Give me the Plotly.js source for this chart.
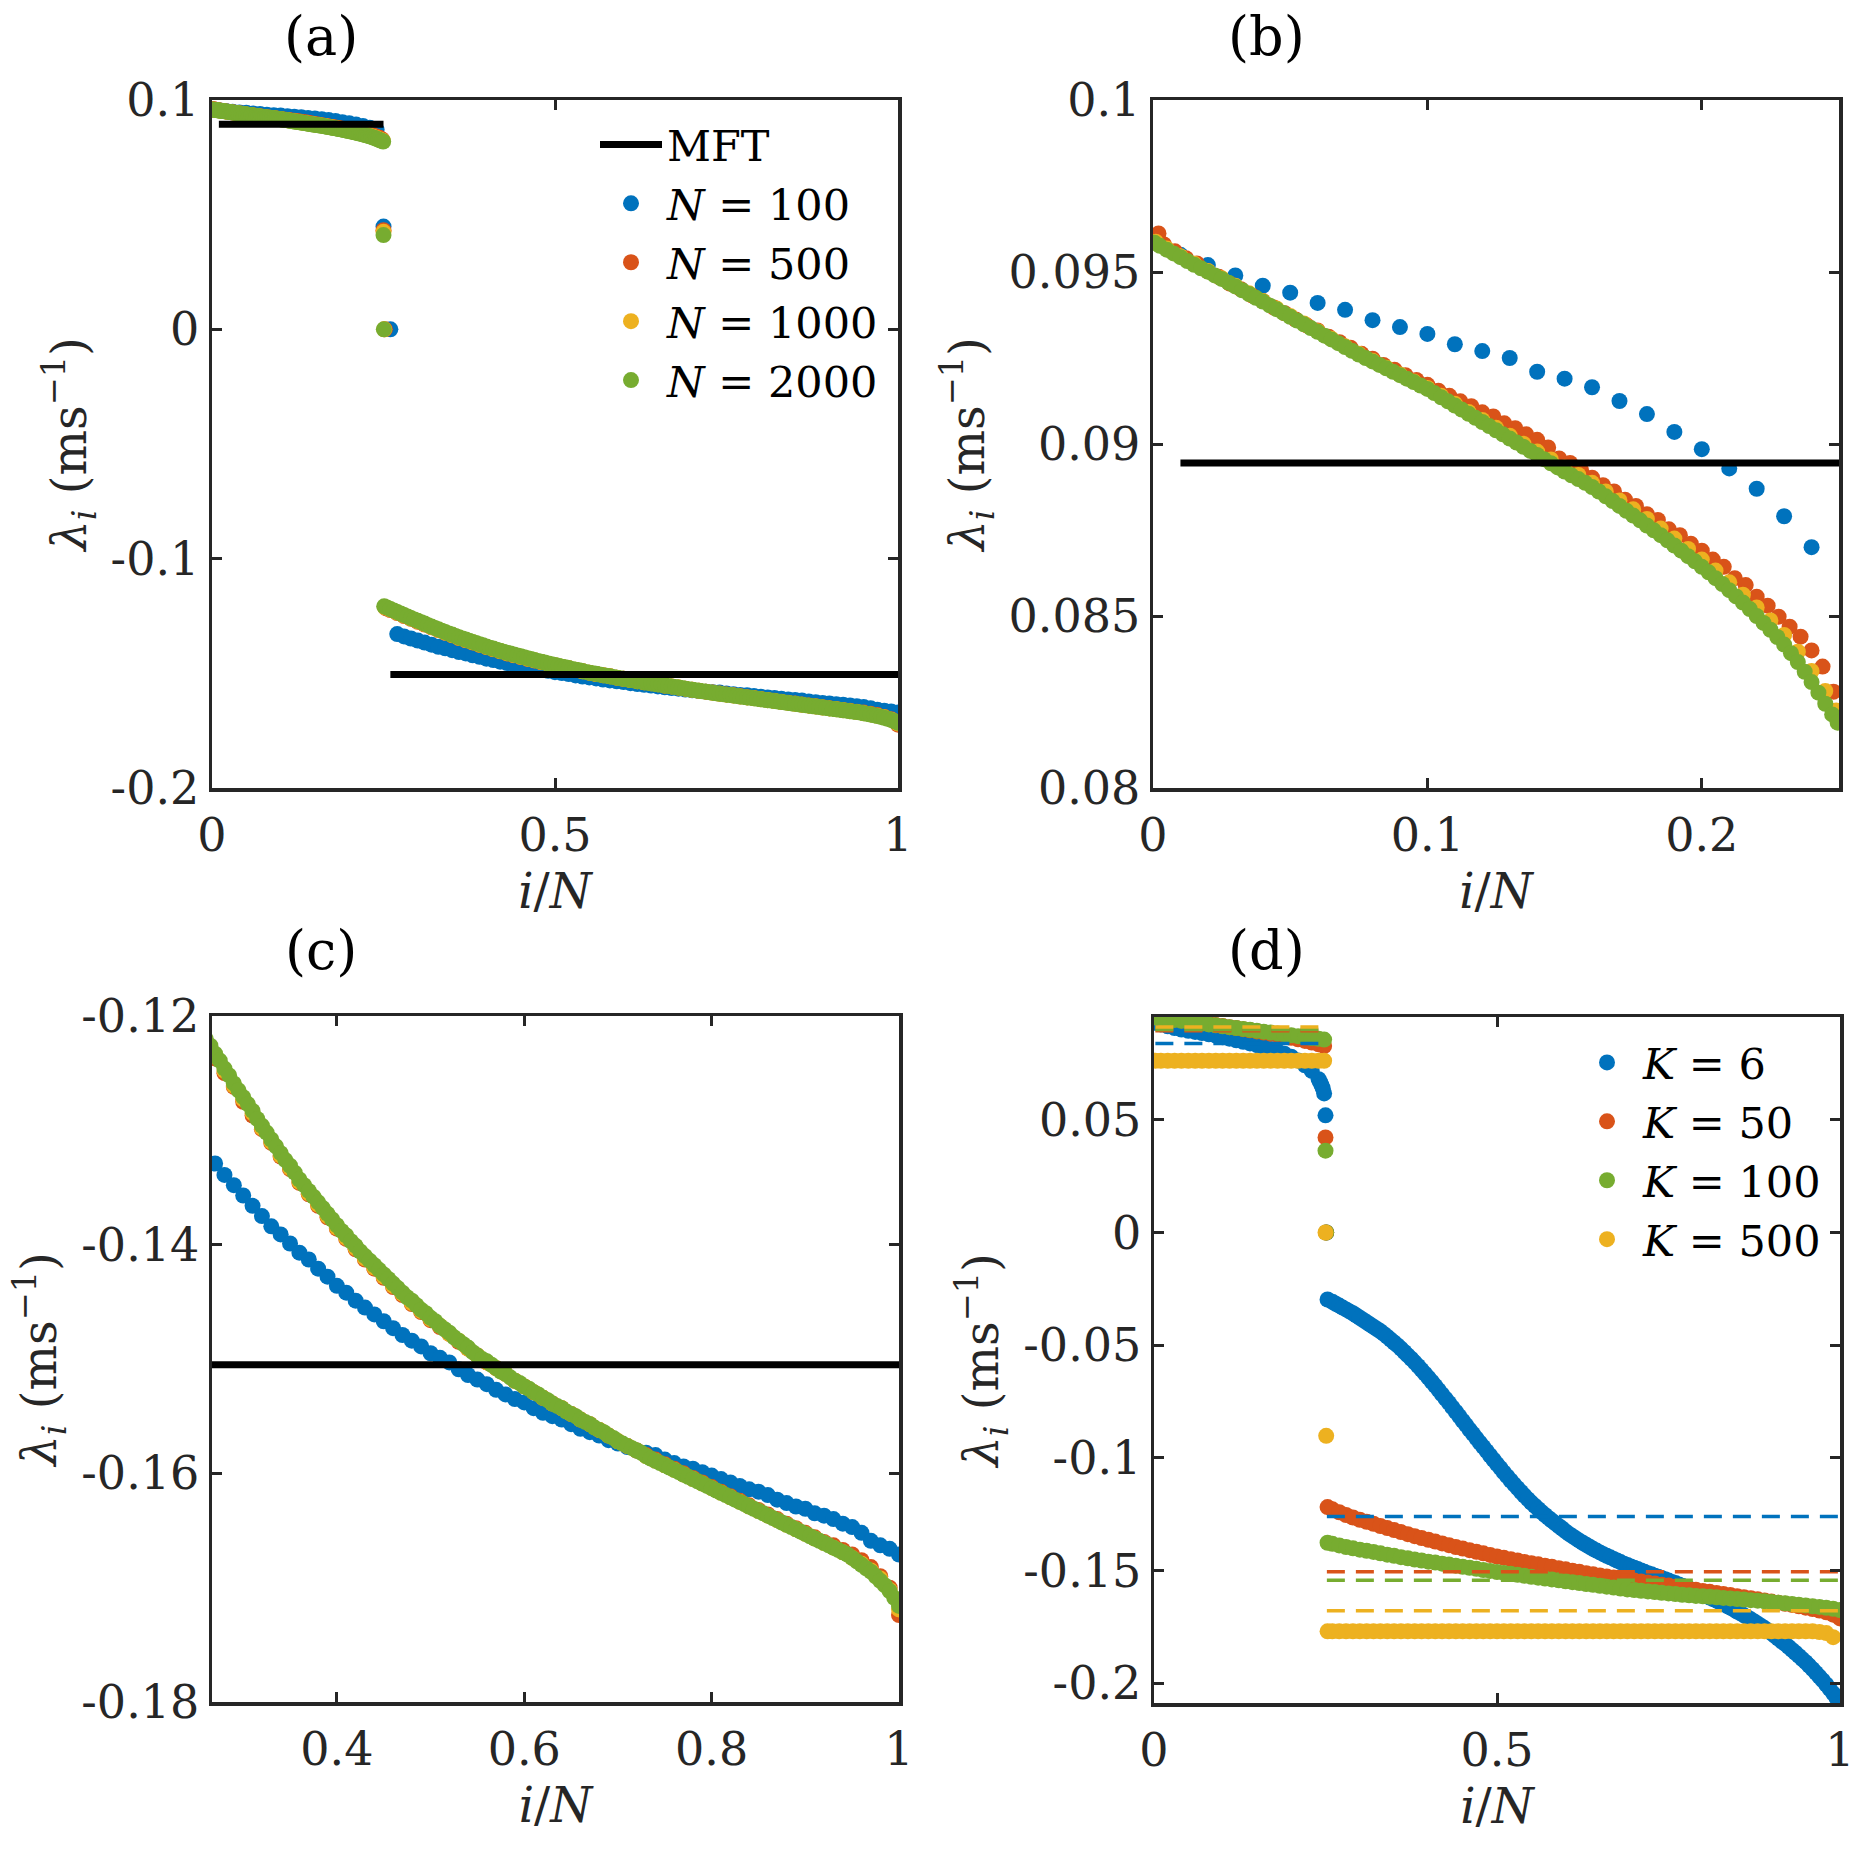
<!DOCTYPE html>
<html>
<head>
<meta charset="utf-8">
<script src="https://cdn.plot.ly/plotly-3.0.1.min.js"></script>
<style>html,body{margin:0;padding:0;background:#fff;}#chart{width:1857px;height:1857px;}</style>
</head>
<body>
<div id="chart"></div>
<script>
// ---------------- DATA ----------------
// Panels (a)-(c): eigenvalues lambda_i vs i/N for several N
const N_values = [100, 500, 1000, 2000];
const seriesNames = ['<i>N</i> = 100', '<i>N</i> = 500', '<i>N</i> = 1000', '<i>N</i> = 2000'];

// N = 100 : every eigenvalue, i = 1..100
const y_N100 = [
  0.0955, 0.0952, 0.0949, 0.0946, 0.0944, 0.0941, 0.0939, 0.0936, 0.0934, 0.0932,
  0.0929, 0.0927, 0.0925, 0.0921, 0.0919, 0.09165, 0.09125, 0.09087, 0.09035, 0.08985,
  0.08929, 0.0887, 0.0879, 0.0870,
  0.0448, 0.0,
  -0.1329, -0.1339, -0.1348, -0.1357, -0.1366, -0.1375, -0.1384, -0.1391, -0.1399, -0.1407,
  -0.1413, -0.1421, -0.1428, -0.1436, -0.1442, -0.1449, -0.1455, -0.1461, -0.1467, -0.1473,
  -0.1479, -0.1484, -0.1489, -0.1495, -0.1499, -0.1503, -0.1509, -0.1514, -0.1518, -0.1522,
  -0.1527, -0.1531, -0.1535, -0.1538, -0.1543, -0.1547, -0.1550, -0.1553, -0.1557, -0.1561,
  -0.1564, -0.1567, -0.1571, -0.1574, -0.1577, -0.1580, -0.1582, -0.1584, -0.1588, -0.1591,
  -0.1594, -0.1596, -0.1599, -0.1602, -0.1605, -0.1608, -0.1611, -0.1614, -0.1616, -0.1619,
  -0.1623, -0.1626, -0.1629, -0.1631, -0.1635, -0.1637, -0.1640, -0.1644, -0.1647, -0.1652,
  -0.1659, -0.1663, -0.1666, -0.1671
];

// N = 500 (sampled indices)
const y_N500_pos = [
  0.09612, 0.09580, 0.09560, 0.09540, 0.09525, 0.09502, 0.09486, 0.09466, 0.09450, 0.09432,
  0.09416, 0.09397, 0.09380, 0.09362, 0.09345, 0.09330, 0.09312, 0.09296, 0.09280, 0.09262,
  0.09248, 0.09230, 0.09216, 0.09200, 0.09186, 0.09172, 0.09155, 0.09140, 0.09124, 0.09110,
  0.09092, 0.09080, 0.09060, 0.09046, 0.09028, 0.09012, 0.08990, 0.08958, 0.08945, 0.08924,
  0.08902, 0.08880, 0.08862, 0.08838, 0.08820, 0.08796, 0.08779, 0.08752, 0.08735, 0.08710,
  0.08690, 0.08664, 0.08643, 0.08610, 0.08590, 0.08556, 0.08530, 0.08498, 0.08469, 0.08440,
  0.08400, 0.08353, 0.08280
];
const y_N500_mid = [0.0432, 0.0];
const y_N500_neg = [
  -0.1217,
  -0.1224, -0.1237, -0.1250, -0.1262, -0.1275, -0.1287, -0.1299, -0.1311, -0.1323, -0.1334,
  -0.1346, -0.1356, -0.1366, -0.1376, -0.1386, -0.1395, -0.1404, -0.1413, -0.1421, -0.1429,
  -0.1437, -0.1444, -0.1452, -0.1459, -0.1466, -0.1472, -0.1478, -0.1485, -0.1491, -0.1497,
  -0.1503, -0.1508, -0.1513, -0.1519, -0.1524, -0.1529, -0.1534, -0.1539, -0.1543, -0.1548,
  -0.1553, -0.1557, -0.1562, -0.1567, -0.1572, -0.1576, -0.1580, -0.1584, -0.1588, -0.1592,
  -0.1596, -0.1600, -0.1604, -0.1608, -0.1612, -0.1616, -0.1620, -0.1624, -0.1628, -0.1632,
  -0.1636, -0.1640, -0.1644, -0.1648, -0.1652, -0.1656, -0.1660, -0.1663, -0.1667, -0.1671,
  -0.1676, -0.1682, -0.1690, -0.1700, -0.1724
];

// N = 1000 (sampled indices)
const y_N1000_pos = [
  0.09588,
  0.09568, 0.09546, 0.09524, 0.09503, 0.09482, 0.09460, 0.09438, 0.09416, 0.09394, 0.09372,
  0.09350, 0.09328, 0.09306, 0.09284, 0.09262, 0.09242, 0.09222, 0.09202, 0.09182, 0.09163,
  0.09140, 0.09117, 0.09093, 0.09070, 0.09047, 0.09024, 0.09001, 0.08978, 0.08955, 0.08932,
  0.08910, 0.08887, 0.08862, 0.08836, 0.08810, 0.08782, 0.08754, 0.08725, 0.08695, 0.08664,
  0.08632, 0.08598, 0.08562, 0.08525, 0.08487, 0.08445, 0.08396, 0.08340, 0.08282,
  0.08225
];
const y_N1000_mid = [0.0425, 0.0];
const y_N1000_neg = [
  -0.1212,
  -0.1222, -0.1235, -0.1248, -0.1261, -0.1273, -0.1285, -0.1298, -0.1310, -0.1322, -0.1333,
  -0.1345, -0.1355, -0.1365, -0.1375, -0.1385, -0.1394, -0.1403, -0.1412, -0.1420, -0.1428,
  -0.1436, -0.1443, -0.1451, -0.1458, -0.1465, -0.1471, -0.1478, -0.1484, -0.1491, -0.1497,
  -0.1503, -0.1508, -0.1513, -0.1519, -0.1524, -0.1529, -0.1534, -0.1539, -0.1543, -0.1548,
  -0.1553, -0.1557, -0.1562, -0.1567, -0.1572, -0.1576, -0.1580, -0.1585, -0.1589, -0.1593,
  -0.1597, -0.1601, -0.1605, -0.1609, -0.1613, -0.1617, -0.1621, -0.1625, -0.1629, -0.1633,
  -0.1637, -0.1641, -0.1645, -0.1649, -0.1653, -0.1657, -0.1661, -0.1665, -0.1669, -0.1674,
  -0.1679, -0.1685, -0.1692, -0.1702, -0.1719
];

// N = 2000 (sampled indices)
const y_N2000_pos = [
  0.09585, 0.09576, 0.09565, 0.09554, 0.09543, 0.09532, 0.09521, 0.09511, 0.09501, 0.09490,
  0.09480, 0.09469, 0.09458, 0.09447, 0.09436, 0.09425, 0.09414, 0.09403, 0.09392, 0.09381,
  0.09370, 0.09359, 0.09348, 0.09337, 0.09326, 0.09315, 0.09304, 0.09293, 0.09282, 0.09271,
  0.09260, 0.09250, 0.09240, 0.09230, 0.09220, 0.09210, 0.09200, 0.09190, 0.09180, 0.09170,
  0.09160, 0.09148, 0.09136, 0.09124, 0.09112, 0.09100, 0.09088, 0.09076, 0.09064, 0.09052,
  0.09040, 0.09028, 0.09016, 0.09004, 0.08992, 0.08980, 0.08968, 0.08956, 0.08944, 0.08932,
  0.08920, 0.08909, 0.08898, 0.08887, 0.08875, 0.08862, 0.08848, 0.08834, 0.08820, 0.08806,
  0.08792, 0.08778, 0.08763, 0.08749, 0.08735, 0.08720, 0.08705, 0.08690, 0.08674, 0.08659,
  0.08643, 0.08627, 0.08610, 0.08593, 0.08575, 0.08557, 0.08539, 0.08520, 0.08500, 0.08480,
  0.08460, 0.08439, 0.08417, 0.08392, 0.08366, 0.08338, 0.08308, 0.08277, 0.08245, 0.08214,
  0.08190
];
const y_N2000_mid = [0.0411, 0.0];
const y_N2000_neg = [
  -0.1208,
  -0.1213, -0.1220, -0.1226, -0.1233, -0.1239, -0.1246, -0.1252, -0.1259, -0.1265, -0.1271,
  -0.1277, -0.1283, -0.1290, -0.1296, -0.1302, -0.1308, -0.1314, -0.1320, -0.1326, -0.1331,
  -0.1337, -0.1343, -0.1348, -0.1353, -0.1358, -0.1363, -0.1368, -0.1373, -0.1378, -0.1383,
  -0.1388, -0.1392, -0.1397, -0.1401, -0.1406, -0.1410, -0.1414, -0.1418, -0.1422, -0.1426,
  -0.1430, -0.1434, -0.1438, -0.1442, -0.1446, -0.1449, -0.1453, -0.1457, -0.1460, -0.1464,
  -0.1467, -0.1471, -0.1474, -0.1477, -0.1481, -0.1484, -0.1487, -0.1490, -0.1494, -0.1497,
  -0.1500, -0.1502, -0.1505, -0.1508, -0.1511, -0.1513, -0.1516, -0.1519, -0.1521, -0.1524,
  -0.1526, -0.1529, -0.1531, -0.1534, -0.1536, -0.1539, -0.1541, -0.1543, -0.1546, -0.1548,
  -0.1550, -0.1553, -0.1555, -0.1557, -0.1560, -0.1562, -0.1564, -0.1567, -0.1569, -0.1572,
  -0.1574, -0.1576, -0.1578, -0.1580, -0.1582, -0.1585, -0.1587, -0.1589, -0.1591, -0.1593,
  -0.1595, -0.1597, -0.1599, -0.1601, -0.1603, -0.1605, -0.1607, -0.1609, -0.1611, -0.1613,
  -0.1615, -0.1617, -0.1619, -0.1621, -0.1623, -0.1625, -0.1627, -0.1629, -0.1631, -0.1633,
  -0.1635, -0.1637, -0.1639, -0.1641, -0.1643, -0.1645, -0.1647, -0.1649, -0.1651, -0.1653,
  -0.1655, -0.1657, -0.1659, -0.1661, -0.1663, -0.1665, -0.1667, -0.1669, -0.1671, -0.1674,
  -0.1677, -0.1680, -0.1683, -0.1686, -0.1690, -0.1694, -0.1698, -0.1703, -0.1709, -0.1716
];

// Mean-field theory levels, panels (a)-(c)
const mft_x = [0.01, 0.25, 0.26, 1.0];
const mft_y = [0.08945, -0.1505];

// Panel (d): several K, N_d = 1000 (sampled indices)
const N_d = 1000;
const K_names = ['<i>K</i> = 6', '<i>K</i> = 50', '<i>K</i> = 100', '<i>K</i> = 500'];
const y_K6_pos = [
  0.0930,
  0.0923, 0.0915, 0.0907, 0.0900, 0.0895, 0.0890, 0.0885, 0.0879, 0.0873, 0.0866,
  0.0860, 0.0853, 0.0846, 0.0839, 0.0831, 0.0823, 0.0814, 0.0804, 0.0793, 0.0780,
  0.0763, 0.0742, 0.0717, 0.0680,
  0.0668, 0.0655, 0.0640, 0.0617
];
const y_K6_mid = [0.052, 0.0];
const y_K6_neg = [
  -0.0297,
  -0.0307, -0.0316, -0.0324, -0.0333, -0.0341, -0.0350, -0.0358, -0.0368, -0.0378, -0.0388,
  -0.0398, -0.0408, -0.0418, -0.0428, -0.0438, -0.0450, -0.0462, -0.0475, -0.0488, -0.0501,
  -0.0515, -0.0530, -0.0545, -0.0560, -0.0576, -0.0592, -0.0609, -0.0626, -0.0644, -0.0662,
  -0.0680, -0.0699, -0.0718, -0.0737, -0.0756, -0.0776, -0.0795, -0.0815, -0.0835, -0.0854,
  -0.0874, -0.0893, -0.0913, -0.0932, -0.0951, -0.0970, -0.0989, -0.1008, -0.1027, -0.1045,
  -0.1064, -0.1082, -0.1100, -0.1117, -0.1134, -0.1151, -0.1167, -0.1183, -0.1198, -0.1212,
  -0.1226, -0.1240, -0.1253, -0.1266, -0.1278, -0.1290, -0.1302, -0.1313, -0.1326, -0.1337,
  -0.1347, -0.1357, -0.1367, -0.1376, -0.1385, -0.1394, -0.1403, -0.1411, -0.1419, -0.1427,
  -0.1434, -0.1441, -0.1448, -0.1455, -0.1462, -0.1469, -0.1475, -0.1481, -0.1487, -0.1493,
  -0.1499, -0.1505, -0.1511, -0.1516, -0.1522, -0.1527, -0.1533, -0.1538, -0.1544, -0.1550,
  -0.1555, -0.1561, -0.1567, -0.1573, -0.1579, -0.1586, -0.1592, -0.1599, -0.1605, -0.1612,
  -0.1619, -0.1626, -0.1633, -0.1641, -0.1648, -0.1656, -0.1664, -0.1672, -0.1681, -0.1689,
  -0.1698, -0.1707, -0.1716, -0.1725, -0.1735, -0.1745, -0.1755, -0.1766, -0.1777, -0.1789,
  -0.1801, -0.1813, -0.1825, -0.1838, -0.1851, -0.1864, -0.1878, -0.1892, -0.1906, -0.1921,
  -0.1937, -0.1953, -0.1970, -0.1987, -0.2005, -0.2024, -0.2044, -0.2065, -0.2087
];
const y_K50_pos = [
  0.0957, 0.0953, 0.0949, 0.0945, 0.0941, 0.0937, 0.0933, 0.0929, 0.0925, 0.0920,
  0.0916, 0.0911, 0.0907, 0.0902, 0.0897, 0.0892, 0.0887, 0.0882, 0.0876, 0.0870,
  0.0864, 0.0857, 0.0850, 0.0843, 0.0835, 0.0827
];
const y_K50_mid = [0.0422, 0.0];
const y_K50_neg = [
  -0.1218,
  -0.1228, -0.1241, -0.1253, -0.1264, -0.1274, -0.1283, -0.1292, -0.1302, -0.1311, -0.1320,
  -0.1329, -0.1338, -0.1347, -0.1355, -0.1363, -0.1371, -0.1379, -0.1387, -0.1395, -0.1402,
  -0.1409, -0.1416, -0.1423, -0.1430, -0.1437, -0.1443, -0.1449, -0.1455, -0.1461, -0.1467,
  -0.1472, -0.1478, -0.1483, -0.1489, -0.1494, -0.1500, -0.1505, -0.1511, -0.1516, -0.1521,
  -0.1526, -0.1530, -0.1535, -0.1539, -0.1544, -0.1548, -0.1553, -0.1557, -0.1562, -0.1566,
  -0.1571, -0.1576, -0.1580, -0.1585, -0.1590, -0.1594, -0.1599, -0.1604, -0.1608, -0.1613,
  -0.1618, -0.1622, -0.1627, -0.1632, -0.1637, -0.1642, -0.1647, -0.1652, -0.1658, -0.1664,
  -0.1670, -0.1677, -0.1685, -0.1695, -0.1712
];
const y_K100_pos = [
  0.0954, 0.0951, 0.0947, 0.0943, 0.0939, 0.0935, 0.0931, 0.0927, 0.0923, 0.0919,
  0.0915, 0.0911, 0.0907, 0.0903, 0.0899, 0.0895, 0.0891, 0.0887, 0.0883, 0.0879,
  0.0875, 0.0871, 0.0867, 0.0863, 0.0859, 0.0856
];
const y_K100_mid = [0.0363, 0.0];
const y_K100_neg = [
  -0.1376,
  -0.1381, -0.1388, -0.1395, -0.1401, -0.1407, -0.1412, -0.1417, -0.1423, -0.1429, -0.1434,
  -0.1440, -0.1445, -0.1451, -0.1455, -0.1460, -0.1464, -0.1469, -0.1473, -0.1478, -0.1483,
  -0.1487, -0.1492, -0.1497, -0.1501, -0.1506, -0.1510, -0.1514, -0.1518, -0.1523, -0.1527,
  -0.1531, -0.1535, -0.1539, -0.1543, -0.1547, -0.1551, -0.1555, -0.1559, -0.1563, -0.1567,
  -0.1571, -0.1575, -0.1579, -0.1583, -0.1586, -0.1589, -0.1592, -0.1595, -0.1598, -0.1601,
  -0.1604, -0.1607, -0.1609, -0.1612, -0.1614, -0.1616, -0.1618, -0.1621, -0.1623, -0.1626,
  -0.1628, -0.1631, -0.1633, -0.1636, -0.1639, -0.1642, -0.1645, -0.1648, -0.1651, -0.1654,
  -0.1658, -0.1661, -0.1665, -0.1669, -0.1675
];
const y_K500_pos = [
  0.0762, 0.0762, 0.0762, 0.0762, 0.0762, 0.0762, 0.0762, 0.0762, 0.0762, 0.0762,
  0.0762, 0.0762, 0.0762, 0.0762, 0.0762, 0.0762, 0.0762, 0.0762, 0.0762, 0.0762,
  0.0762, 0.0762, 0.0762, 0.0762, 0.0762, 0.0762
];
const y_K500_mid = [0.0, -0.0902];
const y_K500_neg = [
  -0.1769,
  -0.1769, -0.1769, -0.1769, -0.1769, -0.1769, -0.1769, -0.1769, -0.1769, -0.1769, -0.1769,
  -0.1769, -0.1769, -0.1769, -0.1769, -0.1769, -0.1769, -0.1769, -0.1769, -0.1769, -0.1769,
  -0.1769, -0.1769, -0.1769, -0.1769, -0.1769, -0.1769, -0.1769, -0.1769, -0.1769, -0.1769,
  -0.1769, -0.1769, -0.1769, -0.1769, -0.1769, -0.1769, -0.1769, -0.1769, -0.1769, -0.1769,
  -0.1769, -0.1769, -0.1769, -0.1769, -0.1769, -0.1769, -0.1769, -0.1769, -0.1769, -0.1769,
  -0.1769, -0.1769, -0.1769, -0.1769, -0.1769, -0.1769, -0.1769, -0.1769, -0.1769, -0.1769,
  -0.1769, -0.1769, -0.1769, -0.1769, -0.1769, -0.1769, -0.1769, -0.1769, -0.1769, -0.1769,
  -0.1769, -0.1772, -0.1777, -0.1795
];
// Mean-field levels for panel (d), one per K (positive branch, negative branch)
const mftK_pos = [0.0839, 0.0895, 0.0900, 0.0912];
const mftK_neg = [-0.1260, -0.1505, -0.1542, -0.1678];
const mftD_x = [0.002, 0.25, 0.252, 1.0];

// Tick labels
const ticksA_x = [0, 0.5, 1], ticksA_xt = ['0', '0.5', '1'];
const ticksA_y = [-0.2, -0.1, 0, 0.1], ticksA_yt = ['-0.2', '-0.1', '0', '0.1'];
const ticksB_x = [0, 0.1, 0.2], ticksB_xt = ['0', '0.1', '0.2'];
const ticksB_y = [0.08, 0.085, 0.09, 0.095, 0.1], ticksB_yt = ['0.08', '0.085', '0.09', '0.095', '0.1'];
const ticksC_x = [0.4, 0.6, 0.8, 1], ticksC_xt = ['0.4', '0.6', '0.8', '1'];
const ticksC_y = [-0.18, -0.16, -0.14, -0.12], ticksC_yt = ['-0.18', '-0.16', '-0.14', '-0.12'];
const ticksD_x = [0, 0.5, 1], ticksD_xt = ['0', '0.5', '1'];
const ticksD_y = [-0.2, -0.15, -0.1, -0.05, 0, 0.05], ticksD_yt = ['-0.2', '-0.15', '-0.1', '-0.05', '0', '0.05'];

// ---------------- BUILD ----------------
function seq(a, b, s) { const r = []; for (let i = a; i <= b; i += s) r.push(i); return r; }
function build(N, idxParts, valParts) {
  const x = [], y = [];
  idxParts.forEach((ix, k) => {
    const v = valParts[k];
    if (ix.length !== v.length) console.warn('length mismatch', N, k, ix.length, v.length);
    const n = Math.min(ix.length, v.length);
    for (let j = 0; j < n; j++) { x.push(ix[j] / N); y.push(v[j]); }
  });
  return { x, y };
}

const S100 = build(100, [seq(1, 100, 1)], [y_N100]);
const S500 = build(500, [[1].concat(seq(2, 124, 2)), [125, 126], [127].concat(seq(130, 500, 5))],
                        [y_N500_pos, y_N500_mid, y_N500_neg]);
const S1000 = build(1000, [[1].concat(seq(5, 245, 5), [249]), [250, 251], [252].concat(seq(260, 1000, 10))],
                          [y_N1000_pos, y_N1000_mid, y_N1000_neg]);
const S2000 = build(2000, [[1].concat(seq(5, 495, 5), [499]), [500, 501], [502].concat(seq(510, 2000, 10))],
                          [y_N2000_pos, y_N2000_mid, y_N2000_neg]);
const seriesABC = [S100, S500, S1000, S2000];

const idxD_pos_fine = [2].concat(seq(10, 240, 10), [242, 244, 246, 248]);
const idxD_pos = [2].concat(seq(10, 240, 10), [248]);
const idxD_mid = [250, 251];
const SK6 = build(N_d, [idxD_pos_fine, idxD_mid, [253].concat(seq(260, 1000, 5))], [y_K6_pos, y_K6_mid, y_K6_neg]);
const SK50 = build(N_d, [idxD_pos, idxD_mid, [253].concat(seq(260, 1000, 10))], [y_K50_pos, y_K50_mid, y_K50_neg]);
const SK100 = build(N_d, [idxD_pos, idxD_mid, [253].concat(seq(260, 1000, 10))], [y_K100_pos, y_K100_mid, y_K100_neg]);
const SK500 = build(N_d, [idxD_pos, idxD_mid, [253].concat(seq(260, 1000, 10))], [y_K500_pos, y_K500_mid, y_K500_neg]);
const seriesD = [SK6, SK50, SK100, SK500];

const COLORS = ['#0072BD', '#D95319', '#EDB120', '#77AC30'];
const COLORS_D = ['#0072BD', '#D95319', '#77AC30', '#EDB120'];
const FONT = 'DejaVu Serif';
const AX = '#262626';
const MS = 16;

const traces = [];
const panelsABC = [['x', 'y'], ['x2', 'y2'], ['x3', 'y3']];
panelsABC.forEach((p, pi) => {
  seriesABC.forEach((s, k) => {
    traces.push({
      type: 'scatter', mode: 'markers', x: s.x, y: s.y, xaxis: p[0], yaxis: p[1],
      name: seriesNames[k], legend: 'legend', legendgroup: 'N' + k, legendrank: 2 + k,
      showlegend: pi === 0, hoverinfo: 'skip',
      marker: { size: MS, color: COLORS[k], line: { width: 0 } }
    });
  });
});
panelsABC.forEach((p, pi) => {
  traces.push({
    type: 'scatter', mode: 'lines',
    x: [mft_x[0], mft_x[1], null, mft_x[2], mft_x[3]],
    y: [mft_y[0], mft_y[0], null, mft_y[1], mft_y[1]],
    xaxis: p[0], yaxis: p[1], name: 'MFT', legend: 'legend', legendgroup: 'mft', legendrank: 1,
    showlegend: pi === 0, hoverinfo: 'skip',
    line: { color: '#000000', width: 7 }
  });
});
seriesD.forEach((s, k) => {
  traces.push({
    type: 'scatter', mode: 'markers', x: s.x, y: s.y, xaxis: 'x4', yaxis: 'y4',
    name: K_names[k], legend: 'legend2', legendrank: 1 + k, showlegend: true, hoverinfo: 'skip',
    marker: { size: MS, color: COLORS_D[k], line: { width: 0 } }
  });
});
seriesD.forEach((s, k) => {
  traces.push({
    type: 'scatter', mode: 'lines',
    x: [mftD_x[0], mftD_x[1], null, mftD_x[2], mftD_x[3]],
    y: [mftK_pos[k], mftK_pos[k], null, mftK_neg[k], mftK_neg[k]],
    xaxis: 'x4', yaxis: 'y4', showlegend: false, hoverinfo: 'skip',
    line: { color: COLORS_D[k], width: 3.5, dash: '18px,11px' }
  });
});

const W = 1857, H = 1857;
function dx(a, b) { return [a / W, b / W]; }
function dy(top, bottom) { return [1 - bottom / H, 1 - top / H]; }
const tickFont = { family: FONT, size: 46, color: AX };
const titleFont = { family: FONT, size: 48, color: AX };
function xax(extra) {
  return Object.assign({
    showline: true, mirror: 'ticks', linecolor: AX, linewidth: 3.5,
    ticks: 'inside', ticklen: 10, tickwidth: 3, tickcolor: AX,
    showgrid: false, zeroline: false, tickfont: tickFont, tickmode: 'array',
    autorange: false, fixedrange: true, ticklabelstandoff: 4,
    title: { text: '<i>i</i>/<i>N</i>', font: titleFont, standoff: 14 }
  }, extra);
}
function yax(extra) {
  return Object.assign({
    showline: true, mirror: 'ticks', linecolor: AX, linewidth: 3.5,
    ticks: 'inside', ticklen: 10, tickwidth: 3, tickcolor: AX,
    showgrid: false, zeroline: false, tickfont: tickFont, tickmode: 'array',
    autorange: false, fixedrange: true, ticklabelstandoff: 0,
    title: { text: '<i>λ</i><sub><i>i</i></sub> (ms<sup>−1</sup>)', font: titleFont, standoff: 10 }
  }, extra);
}
const legendFont = { family: FONT, size: 43, color: '#000' };

const layout = {
  width: W, height: H, margin: { l: 0, r: 0, t: 0, b: 0 },
  paper_bgcolor: '#ffffff', plot_bgcolor: '#ffffff',
  font: { family: FONT, color: '#000' },
  xaxis: xax({ domain: dx(212, 898), range: [0, 1], tickvals: ticksA_x, ticktext: ticksA_xt, anchor: 'y' }),
  yaxis: yax({ domain: dy(100, 788), range: [-0.2, 0.1], tickvals: ticksA_y, ticktext: ticksA_yt, anchor: 'x' }),
  xaxis2: xax({ domain: dx(1153, 1839), range: [0, 0.25], tickvals: ticksB_x, ticktext: ticksB_xt, anchor: 'y2' }),
  yaxis2: yax({ domain: dy(100, 788), range: [0.08, 0.1], tickvals: ticksB_y, ticktext: ticksB_yt, anchor: 'x2' }),
  xaxis3: xax({ domain: dx(212, 899), range: [0.2667, 1], tickvals: ticksC_x, ticktext: ticksC_xt, anchor: 'y3' }),
  yaxis3: yax({ domain: dy(1016, 1702), range: [-0.18, -0.12], tickvals: ticksC_y, ticktext: ticksC_yt, anchor: 'x3' }),
  xaxis4: xax({ domain: dx(1154, 1840), range: [0, 1], tickvals: ticksD_x, ticktext: ticksD_xt, anchor: 'y4' }),
  yaxis4: yax({ domain: dy(1017, 1703), range: [-0.2087, 0.0956], tickvals: ticksD_y, ticktext: ticksD_yt, anchor: 'x4' }),
  legend: {
    x: 884 / W, xanchor: 'right', y: 1 - 110 / H, yanchor: 'top',
    bgcolor: 'rgba(0,0,0,0)', borderwidth: 0, tracegroupgap: 0, itemwidth: 62,
    font: legendFont
  },
  legend2: {
    x: 1827 / W, xanchor: 'right', y: 1 - 1028 / H, yanchor: 'top',
    bgcolor: 'rgba(0,0,0,0)', borderwidth: 0, tracegroupgap: 0, itemwidth: 62,
    font: legendFont
  },
  annotations: [
    { text: '(a)', x: 321 / W, y: 1 - 37 / H },
    { text: '(b)', x: 1266 / W, y: 1 - 37 / H },
    { text: '(c)', x: 321 / W, y: 1 - 950 / H },
    { text: '(d)', x: 1266 / W, y: 1 - 950 / H }
  ].map(a => Object.assign({ xref: 'paper', yref: 'paper', showarrow: false, xanchor: 'center', yanchor: 'middle',
                              font: { family: FONT, size: 54, color: '#000' } }, a))
};

Plotly.newPlot('chart', traces, layout, { staticPlot: true, displayModeBar: false });
</script>
</body>
</html>
